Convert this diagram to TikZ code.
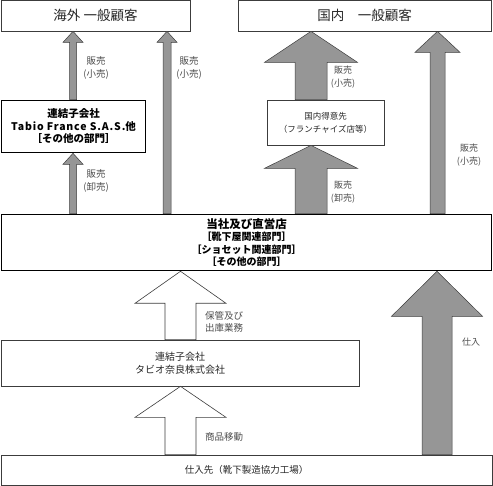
\documentclass[tikz,border=0pt]{standalone}
\usepackage{fontspec}
\setmainfont{Noto Sans CJK JP}
\usetikzlibrary{calc, positioning}
\definecolor{arrgray}{RGB}{150,150,150}
\definecolor{edgegray}{RGB}{60,60,60}

% block arrow: #1 style, #2 x, #3 from node, #4 to node, #5 shaft half width, #6 head half width, #7 head length
\newcommand\blockarr[7]{%
  \draw[#1] (#2-#5,0 |- #3.north) -- ($(#2,0 |- #4.south)+(-#5,#7)$)
    -- ($(#2,0 |- #4.south)+(-#6,#7)$) -- (#2,0 |- #4.south)
    -- ($(#2,0 |- #4.south)+(#6,#7)$) -- ($(#2,0 |- #4.south)+(#5,#7)$)
    -- (#2+#5,0 |- #3.north) -- cycle;}

\begin{document}
\begin{tikzpicture}[x=1pt,y=-1pt,align=center]
\tikzstyle{box}=[draw=edgegray,line width=0.7pt,inner sep=0pt,text=black!85,font=\fontsize{10}{12.5}\selectfont]
\tikzstyle{mainbox}=[draw=black,line width=1.6pt,inner sep=0pt,font=\fontsize{10}{12.5}\selectfont\bfseries]
\tikzstyle{grayarr}=[fill=arrgray,draw=edgegray,line width=0.5pt]
\tikzstyle{whitearr}=[fill=white,draw=edgegray,line width=0.6pt]
\tikzstyle{lbl}=[font=\fontsize{9.5}{12.5}\selectfont,text=black!70,inner sep=0pt]

\useasboundingbox (0,0) rectangle (493,486);

% boxes
\node[box,minimum width=189pt,minimum height=31pt,font=\fontsize{13.5}{15}\selectfont] (kaigai) at (95.5,15.5) {海外\ 一般顧客};
\node[box,minimum width=253pt,minimum height=31pt,font=\fontsize{13.5}{15}\selectfont] (kokunai) at (364.5,15.5) {国内\quad 一般顧客};
\node[mainbox,minimum width=144pt,minimum height=52pt,font=\fontsize{10.5}{12.5}\selectfont\bfseries] (tabio) at (73.5,126.5) {連結子会社\\{\addfontfeature{LetterSpace=8}Tabio France S.A.S.}他\\［その他の部門］};
\node[box,minimum width=117pt,minimum height=45pt,font=\fontsize{8.5}{13}\selectfont] (tokui) at (325.5,122.5) {国内得意先\\（フランチャイズ店等）};
\node[mainbox,minimum width=490pt,minimum height=56pt] (toshya) at (246.5,242.5) {{\fontsize{11.5}{13}\selectfont 当社及び直営店}\\［靴下屋関連部門］\\［ショセット関連部門］\\［その他の部門］};
\node[box,minimum width=358pt,minimum height=46pt] (nara) at (180,363) {連結子会社\\タビオ奈良株式会社};
\node[box,minimum width=491pt,minimum height=30pt,font=\fontsize{9.5}{12}\selectfont] (shiire) at (246.5,470) {仕入先（靴下製造協力工場）};

% arrows
\blockarr{grayarr}{73}{tabio}{kaigai}{3.5}{10}{11}
\blockarr{grayarr}{73}{toshya}{tabio}{3.5}{10}{11}
\blockarr{grayarr}{167}{toshya}{kaigai}{4}{10}{11}
\blockarr{grayarr}{311}{tokui}{kokunai}{16}{46.5}{31}
\blockarr{grayarr}{311}{toshya}{tokui}{16}{46.5}{23}
\blockarr{grayarr}{437.5}{toshya}{kokunai}{7.5}{22.5}{21}
\blockarr{whitearr}{180.5}{nara}{toshya}{15.5}{45.5}{32}
\blockarr{whitearr}{180.5}{shiire}{nara}{15.5}{45.5}{31}
\blockarr{grayarr}{437}{shiire}{toshya}{15}{45.5}{45}

% labels
\node[lbl] (l1) at (96,68) {販売\\(小売)};
\node[lbl] (l2) at (189,68) {販売\\(小売)};
\node[lbl] (l3) at (96,181) {販売\\(卸売)};
\node[lbl,font=\fontsize{9}{12.5}\selectfont] (l4) at (343,77) {販売\\(小売)};
\node[lbl,font=\fontsize{9}{12.5}\selectfont] (l5) at (343,192) {販売\\(卸売)};
\node[lbl,font=\fontsize{9}{12.5}\selectfont] (l6) at (469,155) {販売\\(小売)};
\node[lbl,align=left] (l7) at (224,322) {保管及び\\出庫業務};
\node[lbl] (l8) at (224,437) {商品移動};
\node[lbl,font=\fontsize{9}{12.5}\selectfont] (l9) at (471,342) {仕入};
\end{tikzpicture}
\end{document}
